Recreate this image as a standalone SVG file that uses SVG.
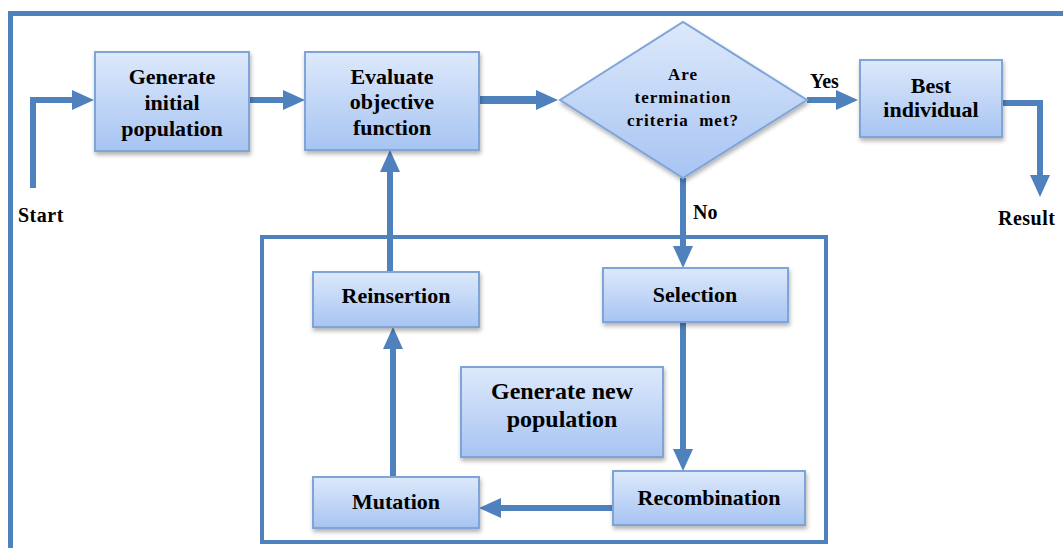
<svg xmlns="http://www.w3.org/2000/svg" width="1063" height="548" viewBox="0 0 1063 548">
<style>
.box{fill:url(#g);stroke:#7fa4d8;stroke-width:2;filter:url(#sh)}
.t{font-family:"Liberation Serif","Times New Roman",serif;font-weight:bold;font-size:22px;fill:#000;text-anchor:middle}
.lbl{font-family:"Liberation Serif","Times New Roman",serif;font-weight:bold;font-size:20px;fill:#000}
.c{fill:none;stroke:#4f81bd;stroke-width:6;marker-end:url(#ah)}
</style>
<defs>
<linearGradient id="g" x1="0" y1="0" x2="0" y2="1">
<stop offset="0" stop-color="#dde9fb"/>
<stop offset="1" stop-color="#a7c4f2"/>
</linearGradient>
<filter id="sh" x="-10%" y="-10%" width="125%" height="130%">
<feDropShadow dx="1" dy="3" stdDeviation="2" flood-color="#000" flood-opacity="0.3"/>
</filter>
<marker id="ah" markerUnits="userSpaceOnUse" markerWidth="24" markerHeight="22" refX="12" refY="10" orient="auto">
<path d="M0,0 L22,10 L0,20 z" fill="#4f81bd"/>
</marker>
</defs>
<rect width="1063" height="548" fill="#fff"/>
<path d="M10.5,548 V13.5 H1063" fill="none" stroke="#4f81bd" stroke-width="5"/>
<rect x="262" y="237" width="564" height="305" fill="none" stroke="#4f81bd" stroke-width="4"/>

<g id="connectors">
<path class="c" d="M33,188 V100 H84"/>
<path class="c" d="M249,100 H295"/>
<path class="c" d="M479,100 H548" style="stroke-width:8"/>
<path class="c" d="M807,100 H848"/>
<path class="c" d="M1002,103 H1040 V187"/>
<path class="c" d="M683,178 V258"/>
<path class="c" d="M683,322 V461"/>
<path class="c" d="M613,508 H489"/>
<path class="c" d="M393,477 V337"/>
<path class="c" d="M390,272 V160"/>
</g>

<g id="gen-initial">
<rect class="box" x="95" y="52" width="154" height="99"/>
<text class="t" x="172" y="84">Generate</text>
<text class="t" x="172" y="110">initial</text>
<text class="t" x="172" y="136">population</text>
</g>
<g id="evaluate">
<rect class="box" x="305" y="52" width="174" height="98"/>
<text class="t" x="392" y="84">Evaluate</text>
<text class="t" x="392" y="109">objective</text>
<text class="t" x="392" y="135">function</text>
</g>
<g id="decision">
<polygon class="box" points="560,100 683,22 807,100 683,178"/>
<text class="t" x="683" y="80" style="font-size:17px;letter-spacing:1px">Are</text>
<text class="t" x="683" y="103" style="font-size:17px;letter-spacing:1px">termination</text>
<text class="t" x="683" y="126" style="font-size:17px;letter-spacing:1px;white-space:pre">criteria  met?</text>
</g>
<g id="best">
<rect class="box" x="860" y="60" width="142" height="77"/>
<text class="t" x="931" y="93">Best</text>
<text class="t" x="931" y="117">individual</text>
</g>
<g id="reinsertion">
<rect class="box" x="313" y="272" width="166" height="55"/>
<text class="t" x="396" y="303">Reinsertion</text>
</g>
<g id="mutation">
<rect class="box" x="313" y="477" width="166" height="51"/>
<text class="t" x="396" y="509">Mutation</text>
</g>
<g id="gen-new">
<rect class="box" x="461" y="367" width="202" height="90"/>
<text class="t" x="562" y="399" style="font-size:24px">Generate new</text>
<text class="t" x="562" y="427" style="font-size:24px">population</text>
</g>
<g id="selection">
<rect class="box" x="603" y="268" width="185" height="54"/>
<text class="t" x="695" y="302">Selection</text>
</g>
<g id="recombination">
<rect class="box" x="613" y="471" width="192" height="54"/>
<text class="t" x="709" y="505">Recombination</text>
</g>

<text class="lbl" x="18" y="222" style="letter-spacing:0.5px">Start</text>
<text class="lbl" x="998" y="225" style="letter-spacing:0.5px">Result</text>
<text class="lbl" x="810" y="88">Yes</text>
<text class="lbl" x="693" y="219">No</text>
</svg>
